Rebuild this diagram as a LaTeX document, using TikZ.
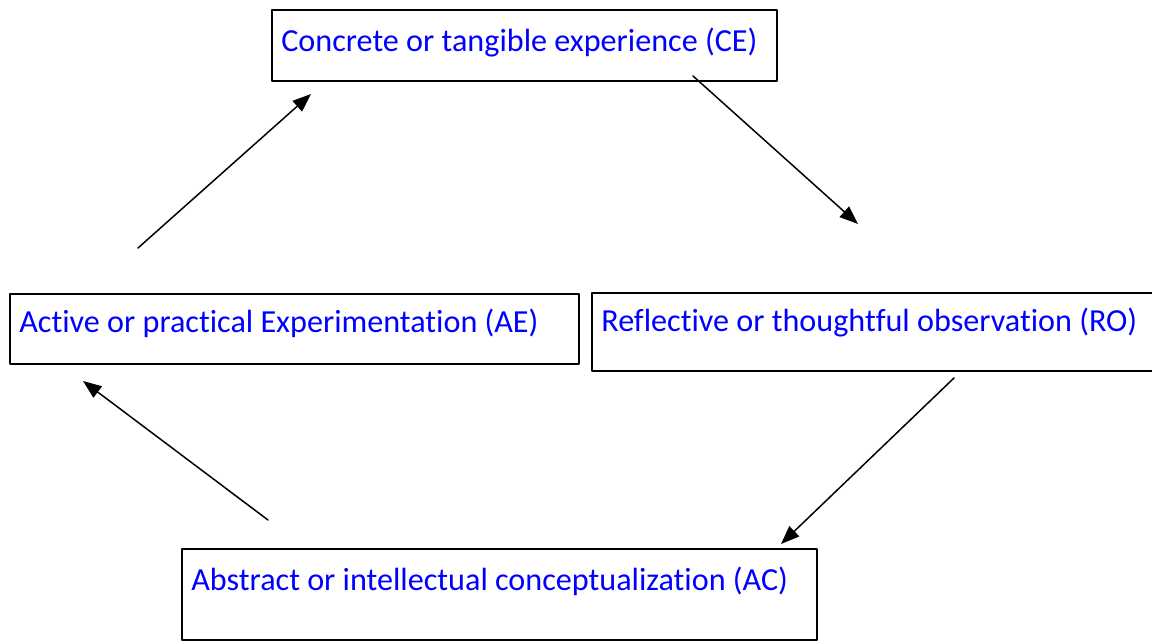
\documentclass[tikz,border=0pt]{standalone}
\usepackage{fontspec}
\setmainfont[Ligatures=NoCommon]{Carlito}
\usetikzlibrary{arrows.meta}
\tikzset{
  box/.style={draw,line width=1.1pt,rectangle,inner sep=0pt,anchor=north west},
  txt/.style={text=blue,font=\fontsize{18.3}{20}\selectfont,inner sep=0pt,anchor=base west},
  flow/.style={line width=0.85pt,-{Triangle[length=10.5pt,width=8pt]}}
}
\begin{document}
\begin{tikzpicture}[x=0.02cm,y=-0.02cm,line cap=round,line join=round]
\useasboundingbox (0,0) rectangle (1152,641);

% the four boxes
\node[box,minimum width=10.1cm,minimum height=1.42cm] (ce) at (271,9) {};
\node[box,minimum width=11.34cm,minimum height=1.56cm] (ro) at (591,292) {};
\node[box,minimum width=12.7cm,minimum height=1.82cm] (ac) at (181,548) {};
\node[box,minimum width=11.38cm,minimum height=1.40cm] (ae) at (9,293) {};

\node[txt] (ce-t) at (281,52) {Concrete or tangible experience (CE)};
\node[txt] (ro-t) at (601,332) {Reflective or thoughtful observation (RO)};
\node[txt] (ac-t) at (191,590) {Abstract or intellectual conceptualization (AC)};
\node[txt] (ae-t) at (19,333) {Active or practical Experimentation (AE)};

% arrow ends (free, not touching the boxes)
\coordinate (a1) at (693,76);
\coordinate (b1) at (858,224);
\coordinate (a2) at (954,378);
\coordinate (b2) at (781,544);
\coordinate (a3) at (268,520);
\coordinate (b3) at (83,381);
\coordinate (a4) at (138,248);
\coordinate (b4) at (311,94);

\draw[flow] (a1) -- (b1);
\draw[flow] (a2) -- (b2);
\draw[flow] (a3) -- (b3);
\draw[flow] (a4) -- (b4);
\end{tikzpicture}
\end{document}
